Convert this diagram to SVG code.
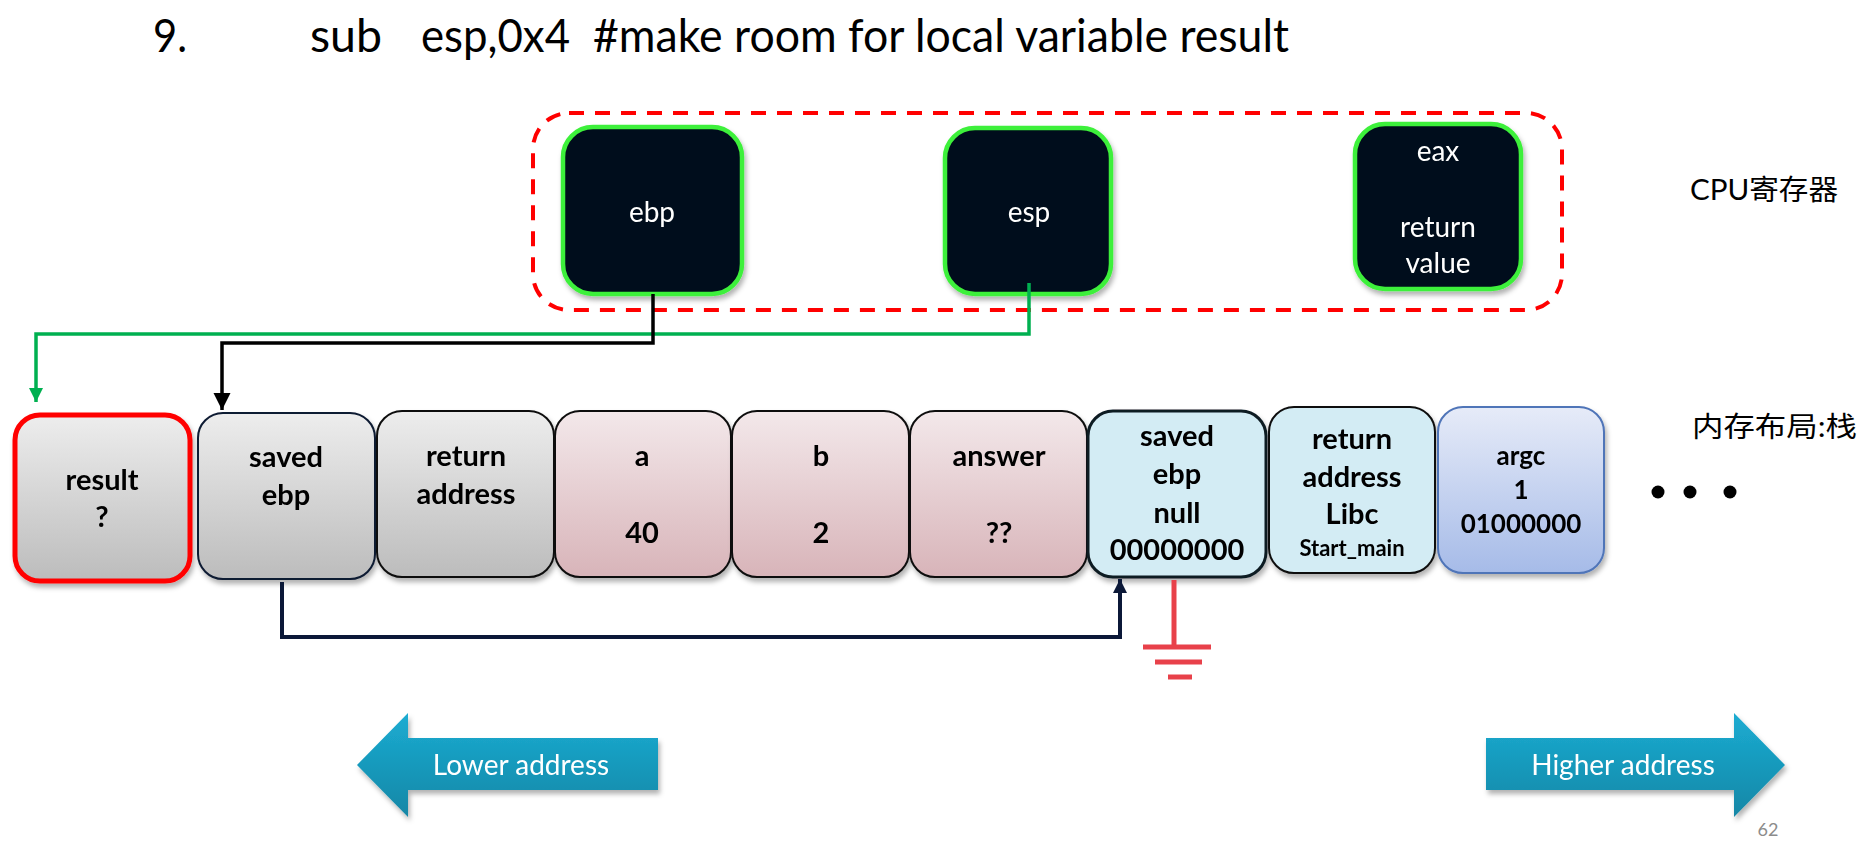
<svg xmlns="http://www.w3.org/2000/svg" width="1863" height="842" viewBox="0 0 1863 842">
  <defs>
    <linearGradient id="gGray" x1="0" y1="0" x2="0" y2="1">
      <stop offset="0" stop-color="#ededed"/>
      <stop offset="1" stop-color="#bcbcbc"/>
    </linearGradient>
    <linearGradient id="gPink" x1="0" y1="0" x2="0" y2="1">
      <stop offset="0" stop-color="#f3e8ea"/>
      <stop offset="1" stop-color="#d8b4b9"/>
    </linearGradient>
    <linearGradient id="gBlue" x1="0" y1="0" x2="0" y2="1">
      <stop offset="0" stop-color="#e6ebf8"/>
      <stop offset="1" stop-color="#a6bbe8"/>
    </linearGradient>
    <linearGradient id="gTeal" x1="0" y1="0" x2="0" y2="1">
      <stop offset="0" stop-color="#1cacd2"/>
      <stop offset="1" stop-color="#1287a6"/>
    </linearGradient>
    <filter id="shadow" x="-10%" y="-10%" width="125%" height="130%">
      <feDropShadow dx="2" dy="4" stdDeviation="2.5" flood-color="#000" flood-opacity="0.3"/>
    </filter>
    <marker id="arrBlack" viewBox="0 0 10 10" refX="10" refY="5" markerWidth="5" markerHeight="5" orient="auto" markerUnits="strokeWidth">
      <path d="M0,0 L10,5 L0,10 z" fill="#000"/>
    </marker>
    <marker id="arrGreen" viewBox="0 0 10 10" refX="10" refY="5" markerWidth="4" markerHeight="4" orient="auto" markerUnits="strokeWidth">
      <path d="M0,0 L10,5 L0,10 z" fill="#00b050"/>
    </marker>
    <marker id="arrNavy" viewBox="0 0 10 10" refX="10" refY="5" markerWidth="3.5" markerHeight="3.5" orient="auto" markerUnits="strokeWidth">
      <path d="M0,0 L10,5 L0,10 z" fill="#0b1838"/>
    </marker>
    <style>
      .title { font-family: Lato, "Liberation Sans", sans-serif; font-size: 46px; fill: #000; }
      .side { font-family: Lato, "Noto Sans CJK SC", sans-serif; font-size: 28px; fill: #000; }
      .reg rect { fill: #020f1b; stroke: #3ef03a; stroke-width: 4.5; }
      .regt { font-family: Lato, "Liberation Sans", sans-serif; font-size: 28px; fill: #fff; text-anchor: middle; }
      .cell { font-family: Lato, "Liberation Sans", sans-serif; font-size: 29px; font-weight: bold; fill: #000; text-anchor: middle; }
      .small { font-size: 22px; }
      .mid { font-size: 26px; }
      .addr { font-family: Lato, "Liberation Sans", sans-serif; font-size: 28px; fill: #fff; text-anchor: middle; }
      .pg { font-family: Lato, "Liberation Sans", sans-serif; font-size: 18px; fill: #8c8c8c; text-anchor: middle; }
    </style>
  </defs>

  <rect width="1863" height="842" fill="#fff"/>

  <!-- title -->
  <g id="title">
    <text class="title" x="153" y="52" textLength="34" lengthAdjust="spacingAndGlyphs">9.</text>
    <text class="title" x="310" y="52" textLength="72" lengthAdjust="spacingAndGlyphs">sub</text>
    <text class="title" x="421" y="52" textLength="149" lengthAdjust="spacingAndGlyphs">esp,0x4</text>
    <text class="title" x="593" y="52" textLength="696" lengthAdjust="spacingAndGlyphs">#make room for local variable result</text>
  </g>

  <!-- CPU registers group -->
  <g id="cpu-group">
    <rect x="533" y="113" width="1029" height="197" rx="36" fill="none" stroke="#ff0000" stroke-width="4" stroke-dasharray="15 11"/>
  </g>
  <g id="reg-ebp" class="reg" filter="url(#shadow)">
    <rect x="563" y="127" width="179" height="167" rx="30"/>
    <text class="regt" x="652" y="222">ebp</text>
  </g>
  <g id="reg-esp" class="reg" filter="url(#shadow)">
    <rect x="945" y="128" width="166" height="166" rx="30"/>
    <text class="regt" x="1029" y="222">esp</text>
  </g>
  <g id="reg-eax" class="reg" filter="url(#shadow)">
    <rect x="1355" y="124" width="166" height="165" rx="30"/>
    <text class="regt" x="1438" y="161">eax</text>
    <text class="regt" x="1438" y="237">return</text>
    <text class="regt" x="1438" y="273">value</text>
  </g>

  <g id="label-cpu">
    <text class="side" x="1690" y="200" textLength="148" lengthAdjust="spacingAndGlyphs">CPU寄存器</text>
  </g>
  <g id="label-stack">
    <text class="side" x="1692" y="437" textLength="165" lengthAdjust="spacingAndGlyphs">内存布局:栈</text>
  </g>

  <!-- stack cells -->
  <g id="cell-result" filter="url(#shadow)">
    <rect x="15" y="415" width="175" height="166" rx="25" fill="url(#gGray)" stroke="#ff0000" stroke-width="5"/>
    <text class="cell" x="102" y="490">result</text>
    <text class="cell" x="102" y="527">?</text>
  </g>
  <g id="cell-saved-ebp" filter="url(#shadow)">
    <rect x="198" y="413" width="177" height="166" rx="25" fill="url(#gGray)" stroke="#0e1a33" stroke-width="2"/>
    <text class="cell" x="286" y="467">saved</text>
    <text class="cell" x="286" y="505">ebp</text>
  </g>
  <g id="cell-return" filter="url(#shadow)">
    <rect x="377" y="411" width="177" height="166" rx="25" fill="url(#gGray)" stroke="#111" stroke-width="2"/>
    <text class="cell" x="466" y="466">return</text>
    <text class="cell" x="466" y="504">address</text>
  </g>
  <g id="cell-a" filter="url(#shadow)">
    <rect x="555" y="411" width="176" height="166" rx="25" fill="url(#gPink)" stroke="#111" stroke-width="2"/>
    <text class="cell" x="642" y="466">a</text>
    <text class="cell" x="642" y="543">40</text>
  </g>
  <g id="cell-b" filter="url(#shadow)">
    <rect x="732" y="411" width="177" height="166" rx="25" fill="url(#gPink)" stroke="#111" stroke-width="2"/>
    <text class="cell" x="821" y="466">b</text>
    <text class="cell" x="821" y="543">2</text>
  </g>
  <g id="cell-answer" filter="url(#shadow)">
    <rect x="910" y="411" width="177" height="166" rx="25" fill="url(#gPink)" stroke="#111" stroke-width="2"/>
    <text class="cell" x="999" y="466">answer</text>
    <text class="cell" x="999" y="543">??</text>
  </g>
  <g id="cell-saved-ebp-null" filter="url(#shadow)">
    <rect x="1088" y="411" width="178" height="166" rx="25" fill="#d3ecf4" stroke="#0f1b24" stroke-width="3"/>
    <text class="cell" x="1177" y="446">saved</text>
    <text class="cell" x="1177" y="484">ebp</text>
    <text class="cell" x="1177" y="523">null</text>
    <text class="cell" x="1177" y="560">00000000</text>
  </g>
  <g id="cell-return-libc" filter="url(#shadow)">
    <rect x="1269" y="407" width="166" height="166" rx="25" fill="#d3ecf4" stroke="#111" stroke-width="2"/>
    <text class="cell" x="1352" y="449">return</text>
    <text class="cell" x="1352" y="487">address</text>
    <text class="cell" x="1352" y="524">Libc</text>
    <text class="cell small" x="1352" y="556">Start_main</text>
  </g>
  <g id="cell-argc" filter="url(#shadow)">
    <rect x="1438" y="407" width="166" height="166" rx="25" fill="url(#gBlue)" stroke="#4f74b8" stroke-width="2"/>
    <text class="cell mid" x="1521" y="465">argc</text>
    <text class="cell mid" x="1521" y="499">1</text>
    <text class="cell mid" x="1521" y="533">01000000</text>
  </g>

  <g id="ellipsis" fill="#000">
    <circle cx="1658" cy="492" r="6.5"/>
    <circle cx="1690" cy="492" r="6.5"/>
    <circle cx="1730" cy="492" r="6.5"/>
  </g>

  <!-- connectors -->
  <g id="connectors" fill="none">
    <path d="M1029,283 V334 H36 V402" stroke="#00b050" stroke-width="3.5" marker-end="url(#arrGreen)"/>
    <path d="M653,294 V343 H222 V410" stroke="#000" stroke-width="3.5" marker-end="url(#arrBlack)"/>
    <path d="M282,582 V637 H1120 V579" stroke="#0b1838" stroke-width="4" marker-end="url(#arrNavy)"/>
  </g>

  <!-- ground symbol -->
  <g id="ground" stroke="#e8414a" stroke-width="5">
    <line x1="1174" y1="580" x2="1174" y2="647"/>
    <line x1="1143" y1="647" x2="1211" y2="647"/>
    <line x1="1155" y1="662" x2="1202" y2="662"/>
    <line x1="1168" y1="677" x2="1192" y2="677"/>
  </g>

  <!-- address arrows -->
  <g id="lower-address" filter="url(#shadow)">
    <polygon points="357,765 408,713 408,738 658,738 658,790 408,790 408,817" fill="url(#gTeal)"/>
    <text class="addr" x="521" y="775">Lower address</text>
  </g>
  <g id="higher-address" filter="url(#shadow)">
    <polygon points="1486,738 1734,738 1734,713 1785,765 1734,817 1734,790 1486,790" fill="url(#gTeal)"/>
    <text class="addr" x="1623" y="775">Higher address</text>
  </g>

  <g id="page-number">
    <text class="pg" x="1768" y="836">62</text>
  </g>
</svg>
